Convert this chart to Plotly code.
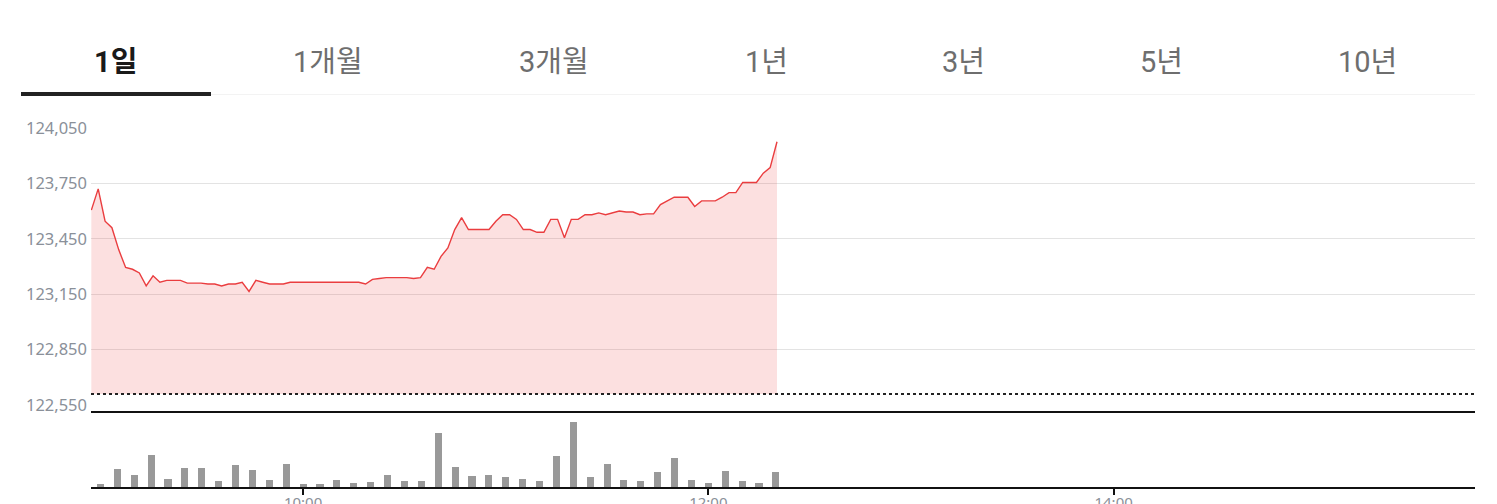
import plotly.graph_objects as go

# tabs on top of the chart
tab_labels = ['1일', '1개월', '3개월', '1년', '3년', '5년', '10년']
tab_centers = [115, 328, 554, 766, 963, 1161, 1367]  # px
active_tab = '1일'

# intraday price, one point every ~2 minutes from 09:00
prices = [
    123605, 123720, 123545, 123510, 123390, 123295, 123285, 123265, 123195, 123250,
    123215, 123225, 123225, 123225, 123210, 123210, 123210, 123205, 123205, 123195,
    123205, 123205, 123215, 123165, 123225, 123215, 123205, 123205, 123205, 123215,
    123215, 123215, 123215, 123215, 123215, 123215, 123215, 123215, 123215, 123215,
    123205, 123230, 123235, 123240, 123240, 123240, 123240, 123235, 123240, 123295,
    123285, 123355, 123400, 123500, 123565, 123500, 123500, 123500, 123500, 123545,
    123580, 123580, 123555, 123500, 123500, 123485, 123485, 123555, 123555, 123455,
    123555, 123555, 123580, 123580, 123590, 123580, 123590, 123600, 123595, 123595,
    123580, 123585, 123585, 123635, 123655, 123675, 123675, 123675, 123625, 123655,
    123655, 123655, 123675, 123700, 123700, 123755, 123755, 123755, 123805, 123835,
    123975,
]
prev_close = 122610

# 5-minute volume bars, minutes after midnight
vol_times = list(range(540, 741, 5))
volumes = [10, 55, 37, 97, 25, 58, 58, 19, 67, 52, 22, 70, 10, 10, 22, 13, 16, 37, 19, 19,
           163, 61, 34, 37, 31, 25, 19, 94, 196, 31, 70, 22, 19, 46, 88, 22, 13, 49, 19, 13, 46]

time_ticks = [600, 720, 840]
time_labels = ['10:00', '12:00', '14:00']
price_ticks = [122550, 122850, 123150, 123450, 123750, 124050]

W, H = 1497, 504
OFF = 8  # page body margin
L, R, T, B = 91 - OFF, W - (1475 - OFF), 127 - OFF, H - (487 - OFF)


def px_x(px):
    # screen pixel -> paper x
    return (px - OFF - L) / (W - L - R)


def px_y(py):
    # screen pixel -> paper y
    return (H - B - (py - OFF)) / (H - T - B)


fig = go.Figure()

idx = list(range(len(prices)))
# baseline for the area fill
fig.add_trace(go.Scatter(
    x=[idx[0], idx[-1]], y=[prev_close, prev_close], xaxis='x3', yaxis='y',
    mode='lines', line=dict(width=0), hoverinfo='skip', showlegend=False,
))
fig.add_trace(go.Scatter(
    x=idx, y=prices, xaxis='x3', yaxis='y',
    mode='lines', line=dict(color='#ea3d3f', width=1.4),
    fill='tonexty', fillcolor='rgba(234,61,63,0.16)', showlegend=False,
))
fig.add_trace(go.Bar(
    x=vol_times, y=volumes, xaxis='x2', yaxis='y2',
    marker=dict(color='#999999', line=dict(width=0)), width=2.1, showlegend=False,
))

x_range = [537.2, 947.0]
idx_range = [-0.05, 201.8]

fig.update_layout(
    width=W, height=H,
    margin=dict(l=L, r=R, t=T, b=B, autoexpand=False),
    plot_bgcolor='white', paper_bgcolor='white',
    font=dict(family='Noto Sans, Roboto', color='#8a9099'),
    bargap=0,
    xaxis=dict(
        range=x_range, domain=[0, 1], anchor='y', automargin=False,
        tickvals=time_ticks, showticklabels=False, ticks='',
        showgrid=True, gridcolor='#e3e3e3', gridwidth=1, zeroline=False, showline=False,
    ),
    xaxis3=dict(
        range=idx_range, overlaying='x', visible=False, automargin=False,
    ),
    yaxis=dict(
        range=[122545, 124055], domain=[px_y(406), 1], anchor='x', automargin=False,
        tickvals=price_ticks, tickformat=',d', ticks='', ticklabelstandoff=3,
        tickfont=dict(size=16.5, color='#8a9099'),
        showgrid=True, gridcolor='#e3e3e3', gridwidth=1, zeroline=False, showline=False,
    ),
    xaxis2=dict(
        range=x_range, domain=[0, 1], anchor='y2', automargin=False,
        tickvals=time_ticks, ticktext=time_labels, ticks='outside', ticklen=6,
        tickwidth=2, tickcolor='#111', tickfont=dict(size=15, color='#8a9099'),
        ticklabelstandoff=-5,
        showgrid=False, zeroline=False,
        showline=True, linecolor='#111', linewidth=2, mirror=True,
    ),
    yaxis2=dict(
        range=[0, 224], domain=[0, px_y(412.5)], anchor='x2', automargin=False,
        visible=False,
    ),
)

# previous close reference line
fig.add_shape(type='line', xref='paper', yref='y', x0=0, x1=1, y0=prev_close, y1=prev_close,
              line=dict(color='#222', width=2, dash='dot'), layer='above')

# tabs
for label, cx in zip(tab_labels, tab_centers):
    active = label == active_tab
    fig.add_annotation(
        x=px_x(cx), y=px_y(62), xref='paper', yref='paper', showarrow=False,
        text=f'<b>{label}</b>' if active else label,
        font=dict(family="Roboto, 'Noto Sans CJK KR'", size=29,
                  color='#1a1a1a' if active else '#6e6e6e'),
        xanchor='center', yanchor='middle',
    )

fig.add_shape(type='line', xref='paper', yref='paper', x0=px_x(211), x1=px_x(1475),
              y0=px_y(94.5), y1=px_y(94.5), line=dict(color='#f3f3f3', width=1))
fig.add_shape(type='line', xref='paper', yref='paper', x0=px_x(21), x1=px_x(211),
              y0=px_y(94), y1=px_y(94), line=dict(color='#222', width=4))

fig.write_html('out.html')
